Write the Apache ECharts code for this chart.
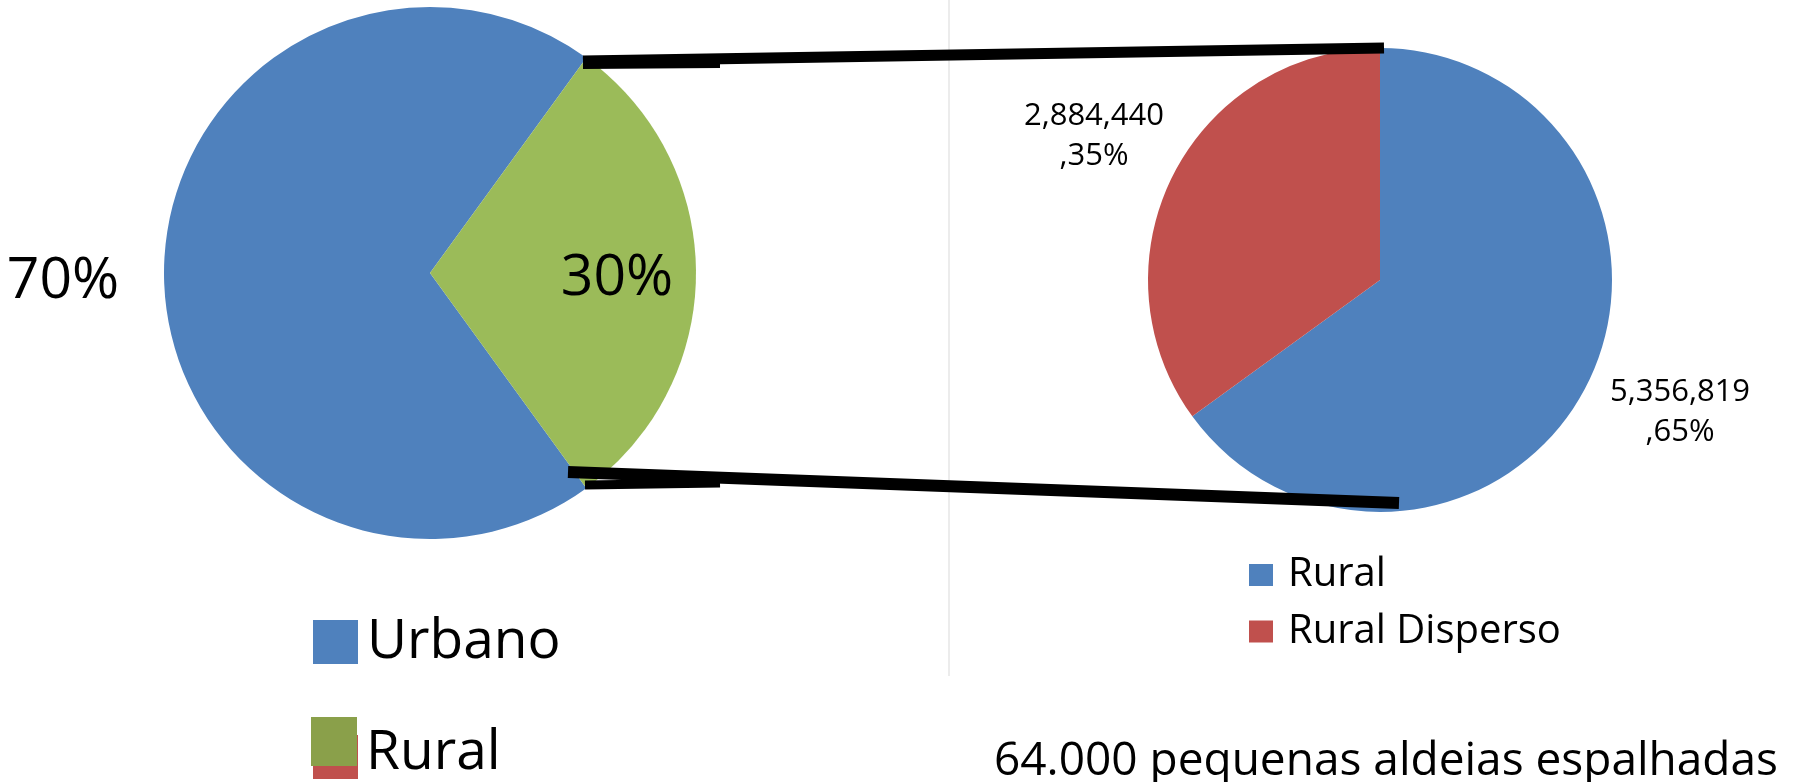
<!DOCTYPE html>
<html><head><meta charset="utf-8">
<script src="https://cdn.jsdelivr.net/npm/echarts@6/dist/echarts.min.js"></script>
<style>html,body{margin:0;padding:0;background:#fff}#c{width:1804px;height:782px}</style>
</head><body><div id="c"></div>
<script>
// ---- data ----
const leftCategories = ['Urbano', 'Rural'];
const leftValues = [70, 30];
const leftColors = ['#4F81BD', '#9BBB59'];
const leftLegendColors = ['#4F81BD', '#8AA04A'];
const rightCategories = ['Rural', 'Rural Disperso'];
const rightValues = [5356819, 2884440];
const rightColors = ['#4F81BD', '#C0504D'];
const footnote = '64.000 pequenas aldeias espalhadas';

const FONT = 'Open Sans';
const chart = echarts.init(document.getElementById('c'));

const leftData = leftCategories.map((n, i) => ({ name: n, value: leftValues[i], itemStyle: { color: leftColors[i] } }));
const rightData = rightCategories.map((n, i) => ({ name: n, value: rightValues[i], itemStyle: { color: rightColors[i] } }));

const leftOffsets = [[-231, 9], [51, 6]];
const rightOffsets = [[194, 78], [-180, -90]];

const leftLegendText = { fontFamily: FONT, fontSize: 55, lineHeight: 56, color: '#000', padding: [0, 0, 0, 4] };

chart.setOption({
  animation: false,
  backgroundColor: '#fff',
  title: {
    text: footnote, left: 994, top: 739, padding: 0,
    textStyle: { fontFamily: FONT, fontSize: 46, fontWeight: 'normal', color: '#000' }
  },
  legend: [
    {
      orient: 'vertical', left: 313, top: 614, itemWidth: 45, itemHeight: 44,
      icon: 'rect', selectedMode: false, z: 5, padding: 0,
      textStyle: leftLegendText,
      data: [{ name: leftCategories[0], itemStyle: { color: leftLegendColors[0] } }]
    },
    {
      // square sits at the top of a taller icon box so the label hangs a little lower, as in the original slide
      orient: 'vertical', left: 311, top: 717, itemWidth: 46, itemHeight: 73,
      icon: 'path://M0,0H46V49H0Z M0,73L0,73', selectedMode: false, z: 5, padding: 0,
      textStyle: leftLegendText,
      data: [{ name: leftCategories[1], itemStyle: { color: leftLegendColors[1] } }]
    },
    {
      orient: 'vertical', left: 1249, top: 555, itemWidth: 24, itemHeight: 22, itemGap: 16.5,
      icon: 'rect', selectedMode: false, z: 5, padding: 0,
      textStyle: { fontFamily: FONT, fontSize: 40, lineHeight: 40, color: '#000', padding: [0, 0, 0, 10] },
      data: rightCategories.map((n, i) => ({ name: n, itemStyle: { color: rightColors[i] } }))
    }
  ],
  graphic: [
    { type: 'line', z: 1, shape: { x1: 949, y1: 0, x2: 949, y2: 676 }, style: { stroke: '#D9D9D9', lineWidth: 1 } },
    { type: 'rect', z: 1, shape: { x: 313, y: 735, width: 45, height: 44 }, style: { fill: '#C0504D' } },
    { type: 'line', z: 10, shape: { x1: 583, y1: 61, x2: 1384, y2: 48 }, style: { stroke: '#000', lineWidth: 11 } },
    { type: 'line', z: 10, shape: { x1: 583, y1: 63, x2: 720, y2: 62 }, style: { stroke: '#000', lineWidth: 12 } },
    { type: 'line', z: 10, shape: { x1: 568, y1: 472, x2: 1399, y2: 503 }, style: { stroke: '#000', lineWidth: 12 } },
    { type: 'line', z: 10, shape: { x1: 585, y1: 485, x2: 720, y2: 483 }, style: { stroke: '#000', lineWidth: 9 } }
  ],
  series: [
    {
      type: 'pie', center: [430, 273], radius: 266, startAngle: 306, clockwise: true,
      avoidLabelOverlap: false, silent: true,
      itemStyle: { borderWidth: 0 },
      label: { show: true, position: 'inside', formatter: '{c}%', fontFamily: FONT, fontSize: 57, color: '#000' },
      labelLine: { show: false },
      labelLayout: p => ({ dx: leftOffsets[p.dataIndex][0], dy: leftOffsets[p.dataIndex][1] }),
      data: leftData
    },
    {
      type: 'pie', center: [1380, 280], radius: 232, startAngle: 90, clockwise: true,
      avoidLabelOverlap: false, silent: true,
      itemStyle: { borderWidth: 0 },
      label: {
        show: true, position: 'inside', fontFamily: FONT, fontSize: 31, lineHeight: 40, color: '#000', align: 'center',
        formatter: p => p.value.toLocaleString('en-US') + '\n,' + Math.round(p.percent) + '%'
      },
      labelLine: { show: false },
      labelLayout: p => ({ dx: rightOffsets[p.dataIndex][0], dy: rightOffsets[p.dataIndex][1] }),
      data: rightData
    }
  ]
});
</script></body></html>
